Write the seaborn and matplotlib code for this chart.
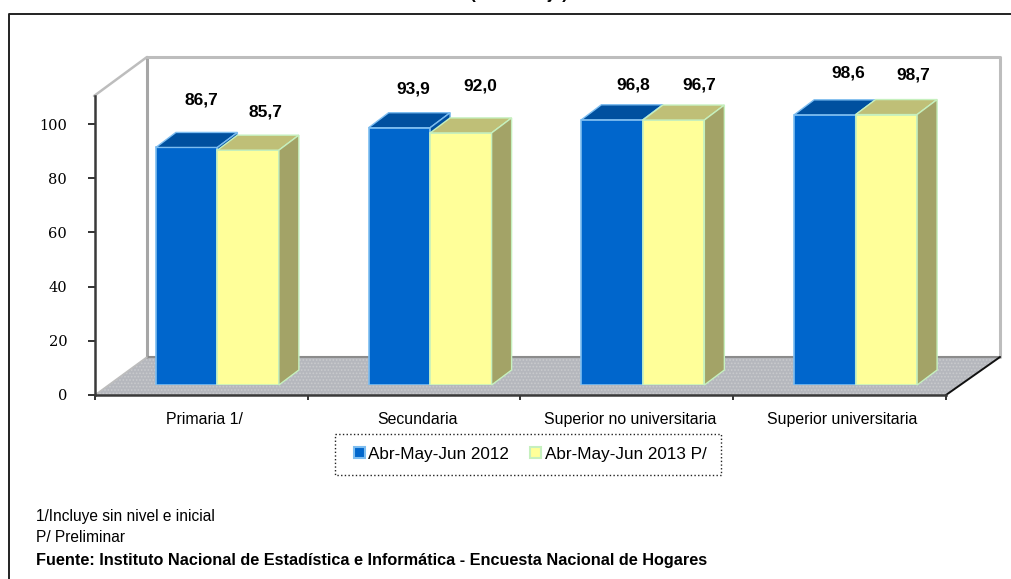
import matplotlib
matplotlib.use("Agg")
import matplotlib.pyplot as plt
import numpy as np
import pandas as pd
import seaborn as sns
from matplotlib.patches import Polygon, Rectangle
from matplotlib.transforms import ScaledTranslation

categories = ["Primaria 1/", "Secundaria", "Superior no universitaria", "Superior universitaria"]
series_names = ["Abr-May-Jun 2012", "Abr-May-Jun 2013 P/"]
values_2012 = [86.7, 93.9, 96.8, 98.6]
values_2013 = [85.7, 92.0, 96.7, 98.7]
y_ticks = [0, 20, 40, 60, 80, 100]

# nudges de las etiquetas, en pixeles (dx, dy) respecto a la barra
label_dx = [15, 17, 14, 19, 21, 26, 23, 27]
label_dy = [47, 38, 39, 47, 35, 35, 42, 40]

W, H = 1012, 579
DEPTH_X, DEPTH_Y = 20, 15

faces = ["#0066CC", "#FFFF99"]
edges = ["#7DBDF0", "#C6F0BE"]
tops = ["#00509F", "#BFBF77"]
sides = ["#00509F", "#A3A367"]

sns.set_style("white")
plt.rcParams["font.family"] = ["Liberation Sans", "DejaVu Sans"]
plt.rcParams["hatch.linewidth"] = 0.8
plt.rcParams["text.color"] = "black"
plt.rcParams["xtick.labelcolor"] = "black"
plt.rcParams["ytick.labelcolor"] = "black"


def axes_px(fig, left, right, top, bottom):
    return fig.add_axes([left / W, 1 - bottom / H, (right - left) / W, (bottom - top) / H])


df = pd.DataFrame({
    "categoria": categories * 2,
    "periodo": [series_names[0]] * 4 + [series_names[1]] * 4,
    "valor": values_2012 + values_2013,
})

fig = plt.figure(figsize=(W / 100, H / 100), dpi=100)

# fondo: marco, paredes y piso en pixeles
bg = fig.add_axes([0, 0, 1, 1], zorder=0)
bg.set_xlim(0, W)
bg.set_ylim(H, 0)
bg.axis("off")
bg.plot([9, 9, W], [H, 13.5, 13.5], color="#222222", lw=1.4, clip_on=False)
bg.add_patch(Polygon([(95, 395), (147, 357), (1000, 357), (946, 395)], facecolor="#B5B7BD",
                     edgecolor="#C9CACD", hatch=".....", lw=0))
bg.plot([147, 147], [57, 357], color="#A6A6A6", lw=2.2)
bg.plot([147, 1000, 1000], [57, 57, 357], color="#BDBDBD", lw=2.2)
bg.plot([147, 1000], [357, 357], color="#8C8C8C", lw=1.5)
bg.plot([94, 147], [96, 57], color="#BDBDBD", lw=1.8)
bg.plot([95, 147], [395, 357], color="#BDBDBD", lw=1.2)
bg.plot([946, 1000], [395, 357], color="#111111", lw=1.4)
bg.add_patch(Rectangle((335, 434), 386, 41, facecolor="white", edgecolor="#222222", lw=1, ls=":"))
bg.text(518.5, -6, "(Porcentaje)", fontsize=12.3, fontweight="bold", ha="center", va="center", clip_on=False)
bg.text(36, 516, "1/Incluye sin nivel e inicial", fontsize=11.2, va="center")
bg.text(36, 538, "P/ Preliminar", fontsize=11.2, va="center")
bg.text(36, 561, "Fuente: Instituto Nacional de Estadística e Informática - Encuesta Nacional de Hogares",
        fontsize=11.7, fontweight="bold", va="center")

# ejes visibles
ax = axes_px(fig, 95, 946, 96, 395)
ax.patch.set_alpha(0)
ax.set_zorder(1)
ax.set_xlim(-0.5, 3.5)
ax.set_ylim(0, 299 / 2.71)
ax.set_yticks(y_ticks)
ax.set_yticklabels(y_ticks, family=["DejaVu Serif"], fontsize=10.5)
ax.set_xticks(np.arange(-0.5, 4))
ax.set_xticklabels([])
ax.set_xticks(range(4), categories, minor=True, fontsize=11.4)
ax.tick_params(axis="x", which="minor", length=0, pad=12)
ax.tick_params(axis="x", which="major", length=3.6, width=1.2, color="#111111", bottom=True)
ax.tick_params(axis="y", which="major", length=5, width=1.2, color="#111111", left=True, pad=15)
for label in ax.get_xticklabels(minor=True):
    label.set_transform(label.get_transform() + ScaledTranslation(3 / 100, 0, fig.dpi_scale_trans))
for name in ["top", "right"]:
    ax.spines[name].set_visible(False)
for name in ["left", "bottom"]:
    ax.spines[name].set_color("#3A3A3A")
    ax.spines[name].set_linewidth(1.8)

# barras, desplazadas hacia el fondo del piso
bar_ax = axes_px(fig, 111, 962, 85, 385)
bar_ax.patch.set_alpha(0)
bar_ax.set_zorder(2)
sns.barplot(data=df, x="categoria", y="valor", hue="periodo", palette=faces, width=0.578,
            saturation=1, linewidth=1.2, ax=bar_ax)
bar_ax.set_xlim(-0.5, 3.5)
bar_ax.set_ylim(0, 300 / 2.74)
bar_ax.axis("off")

dx = DEPTH_X / (851 / 4)
dy = DEPTH_Y / 2.74
for s, container in enumerate(bar_ax.containers):
    for bar in container:
        x0, w, h = bar.get_x(), bar.get_width(), bar.get_height()
        bar.set_edgecolor(edges[s])
        bar.set_zorder(3 + s)
        bar_ax.add_patch(Polygon([(x0, h), (x0 + dx, h + dy), (x0 + w + dx, h + dy), (x0 + w, h)],
                                 facecolor=tops[s], edgecolor=edges[s], lw=1, zorder=3 + s, clip_on=False))
        bar_ax.add_patch(Polygon([(x0 + w, 0), (x0 + w + dx, dy), (x0 + w + dx, h + dy), (x0 + w, h)],
                                 facecolor=sides[s], edgecolor=edges[s], lw=1, zorder=3 + s, clip_on=False))

# etiquetas de valor
all_bars = [b for pair in zip(*bar_ax.containers) for b in pair]
for i, bar in enumerate(all_bars):
    h = bar.get_height()
    bar_ax.annotate(f"{h:.1f}".replace(".", ","), (bar.get_x() + bar.get_width() / 2, h),
                    xytext=(label_dx[i], label_dy[i]), textcoords="offset pixels",
                    ha="center", va="center", fontsize=12.5, fontweight="bold", annotation_clip=False, zorder=8)

sns.move_legend(bar_ax, "center", bbox_to_anchor=(530 / W, 1 - 454 / H), bbox_transform=fig.transFigure,
                ncol=2, title=None, frameon=False, fontsize=12.3, handlelength=0.66, handleheight=0.66,
                handletextpad=0.2, columnspacing=1.2)
for handle, edge in zip(bar_ax.get_legend().legend_handles, edges):
    handle.set_edgecolor(edge)
    handle.set_linewidth(1.5)

fig.savefig("out.png", dpi=100, facecolor="white")
